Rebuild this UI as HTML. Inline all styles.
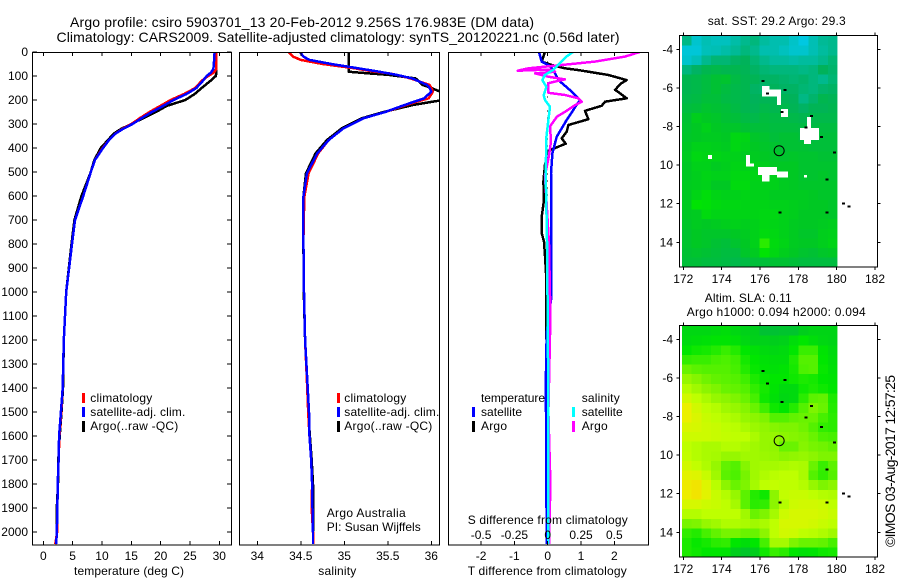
<!DOCTYPE html>
<html>
<head>
<meta charset="utf-8">
<title>Argo profile</title>
<style>
html,body{margin:0;padding:0;background:#fff;width:900px;height:580px;overflow:hidden}
svg{display:block}
text{font-family:"Liberation Sans",Arial,sans-serif;font-size:12px;fill:#000}
.t{font-size:14px}
.frame{fill:none;stroke:#000;stroke-width:1}
.tick{stroke:#000;stroke-width:1;shape-rendering:crispEdges}
.line{fill:none;stroke-width:2.5;stroke-linejoin:round;shape-rendering:crispEdges}
</style>
</head>
<body>
<svg id="chart" xmlns="http://www.w3.org/2000/svg" width="900" height="580" viewBox="0 0 900 580">
<defs>
<clipPath id="c1"><rect x="32.5" y="52" width="199" height="493"/></clipPath>
<clipPath id="c2"><rect x="239.5" y="52" width="200" height="493"/></clipPath>
<clipPath id="c3"><rect x="448.5" y="52" width="200" height="493"/></clipPath>
</defs>
<text class="t" x="70" y="27" textLength="464">Argo profile: csiro 5903701_13 20-Feb-2012 9.256S 176.983E (DM data)</text>
<text class="t" x="56.5" y="42" textLength="563">Climatology: CARS2009. Satellite-adjusted climatology: synTS_20120221.nc (0.56d later)</text>

<g id="p1"></g>
<g id="p2"></g>
<g id="p3"></g>
<g id="m1"></g>
<g id="m2"></g>

<text x="74" y="575" textLength="110">temperature (deg C)</text>
<text x="318.3" y="575" textLength="38">salinity</text>
<text x="467.7" y="575" textLength="159">T difference from climatology</text>
<text x="467.7" y="524" textLength="160">S difference from climatology</text>

<g>
<rect x="82" y="393" width="3" height="10" fill="#f00"/>
<rect x="82" y="407" width="3" height="10" fill="#00f"/>
<rect x="82" y="421" width="3" height="11" fill="#000"/>
<text x="90.3" y="402" textLength="62">climatology</text>
<text x="90.3" y="416" textLength="95">satellite-adj. clim.</text>
<text x="90.3" y="430" textLength="88">Argo(..raw -QC)</text>
</g>
<g>
<rect x="337" y="393" width="3" height="10" fill="#f00"/>
<rect x="337" y="407" width="3" height="10" fill="#00f"/>
<rect x="337" y="421" width="3" height="11" fill="#000"/>
<text x="344.3" y="402" textLength="62">climatology</text>
<text x="344.3" y="416" textLength="95">satellite-adj. clim.</text>
<text x="344.3" y="430" textLength="88">Argo(..raw -QC)</text>
<text x="326.7" y="517" textLength="79">Argo Australia</text>
<text x="326.7" y="531" textLength="94">PI: Susan Wijffels</text>
</g>
<g>
<text x="481" y="402" textLength="64">temperature</text>
<text x="581.7" y="402" textLength="38">salinity</text>
<rect x="472" y="407" width="3" height="10" fill="#00f"/>
<rect x="472" y="421" width="3" height="11" fill="#000"/>
<rect x="572" y="407" width="3" height="10" fill="#0ff"/>
<rect x="572" y="421" width="3" height="11" fill="#f0f"/>
<text x="481" y="416" textLength="41">satellite</text>
<text x="481" y="430" textLength="26">Argo</text>
<text x="581.7" y="416" textLength="41">satellite</text>
<text x="581.7" y="430" textLength="26">Argo</text>
</g>

<text x="707.7" y="25" textLength="138">sat. SST: 29.2 Argo: 29.3</text>
<text x="704.7" y="302" textLength="87">Altim. SLA: 0.11</text>
<text x="686.7" y="316" textLength="179">Argo h1000: 0.094 h2000: 0.094</text>
<text class="t" transform="translate(895,547) rotate(-90)" x="0" y="0" textLength="172">©IMOS 03-Aug-2017 12:57:25</text>
</svg>

<script>
// ---- temperature panel data ----
const tempDepth = [0,40,70,85,100,120,150,175,200,225,250,275,300,320,340,370,400,450,500,600,700,800,1000,1200,1400,1500,1600,1700,1800,1900,2000,2050];
const tempArgo = [29.3,29.4,29.5,29.5,29.4,28.5,27.0,25.8,24.2,21.0,19.2,17.1,15.0,13.3,12.0,10.9,9.8,8.7,8.1,6.5,5.3,4.8,3.9,3.5,3.35,3.1,2.8,2.55,2.5,2.3,2.3,2.2];
const tempClim = [29.5,29.5,29.5,29.1,28.1,27.0,25.9,24.0,21.7,19.9,18.1,16.5,15.0,13.5,12.3,11.1,10.1,8.8,8.1,6.8,5.4,4.9,3.9,3.5,3.3,3.05,2.75,2.6,2.45,2.4,2.35,2.05];
const tempSat = [29.2,29.1,29.0,28.6,27.85,27.2,26.1,24.4,22.2,20.4,18.5,16.8,15.2,13.6,12.3,11.1,10.2,8.8,8.1,6.8,5.4,4.9,3.9,3.5,3.3,3.0,2.7,2.6,2.45,2.4,2.3,2.2];
const tempTicks = [0,5,10,15,20,25,30];
const depthTicks = [0,100,200,300,400,500,600,700,800,900,1000,1100,1200,1300,1400,1500,1600,1700,1800,1900,2000];

// ---- salinity panel data ----
const salDepth = [0,19,33,50,68,82,89,95,110,137,150,165,193,205,220,250,276,318,367,422,505,603,783,1000,1200,1367,1500,1600,1700,1800,1900,2000,2050];
const salArgo = [35.05,35.05,35.05,35.05,35.05,35.05,35.28,35.5,35.82,35.9,36.0,36.1,36.3,36.05,35.8,35.45,35.2,34.97,34.8,34.67,34.56,34.53,34.53,34.535,34.55,34.57,34.585,34.605,34.625,34.64,34.645,34.64,34.64];
const salClim = [34.36,34.41,34.5,34.75,35.12,35.35,35.52,35.6,35.76,35.98,36.0,36.02,35.97,35.85,35.72,35.47,35.22,34.99,34.82,34.7,34.59,34.54,34.53,34.537,34.55,34.57,34.585,34.6,34.62,34.63,34.625,34.64,34.64];
const salSat = [34.49,34.53,34.6,34.85,35.16,35.4,35.51,35.6,35.78,35.95,35.98,36.0,35.92,35.82,35.7,35.47,35.22,34.99,34.82,34.69,34.57,34.53,34.53,34.537,34.55,34.575,34.594,34.6,34.62,34.63,34.635,34.64,34.64];
const salTicks = [34,34.5,35,35.5,36];

// ---- difference panel data ----
const tDiffDepth = [0,40,54,68,75,82,96,117,131,158,165,193,207,224,245,280,304,332,360,382,411,470,540,616,687,754,790,850,920,1032,1170,1300,1500,1700,2050];
const tDiffArgo = [-0.08,-0.18,0.12,0.52,0.9,1.22,1.82,2.37,2.2,2.02,2.1,2.37,1.72,1.62,1.12,1.22,0.62,0.57,0.42,0.54,0.02,-0.08,-0.13,-0.11,-0.18,-0.18,-0.11,-0.08,-0.05,-0.05,-0.05,0.02,0.02,-0.03,-0.03];
const tDiffDepthSat = [0,40,54,75,117,165,200,220,283,353,422,505,783,1032,1170,1400,1500,2050];
const tDiffSat = [-0.26,-0.18,0.02,0.17,0.32,0.72,0.97,0.87,0.57,0.27,0.14,0.1,0.1,0.1,-0.03,-0.06,-0.05,-0.03];
const sDiffDepthArgo = [0,19,40,54,68,78,73,82,89,103,114,120,130,170,179,193,207,221,249,269,310,374,430,515,800,1100,1500,1800,2050];
const sDiffArgo = [0.69,0.58,0.355,0.105,-0.145,-0.225,0.02,0.055,-0.095,0.005,0.13,0.08,0.005,0.005,0.13,0.23,0.255,0.205,0.13,0.07,0.0175,0.025,0.01,-0.02,0.01,0.02,0.005,0.02,0.01];
const sDiffDepthSat = [0,19,47,75,96,117,145,179,200,228,283,353,505,783,1100,1500,2050];
const sDiffSat = [0.19,0.14,0.09,0.04,-0.02,-0.04,-0.01,-0.03,-0.02,0.0175,0.005,-0.01,-0.015,-0.005,0.0,0.005,0.005];
const tDiffTicks = [-2,-1,0,1,2];
const sDiffTicks = [-0.5,-0.25,0,0.25,0.5];
const sDiffTickLabels = ['-0.5','-0.25','0','0.25','0.5'];

// ---- map data (levels of a shared colour scale, 0.5 degree cells, north to south) ----
const sstGrid = [
[2.5,1.4,1.9,1.7,1.7,2.1,2.4,2.6,2.2,2,2,1.5,1,1.9,2.3,2.4],
[1.2,1.2,1.8,1.9,2.1,2.3,2.6,2.4,2,2,1.7,1.4,1.4,1.9,2.2,2.4],
[1.4,1.8,2.4,2.7,2.7,2.9,3,2.7,2.4,2.2,2.2,2.1,2.2,2.2,2.4,2.7],
[2.6,2.9,3.2,3.3,3.2,3.2,3.1,2.9,2.7,2.6,2.6,2.6,2.5,2.6,3,2.8],
[3.2,3.3,3.5,3.7,3.8,3.4,3.2,3.1,2.9,2.9,2.8,2.7,2.8,2.6,2.4,2.7],
[3.2,3.3,3.5,3.7,3.5,3.3,3.2,2.9,2.8,3,2.9,2.9,2.7,2.6,2.8,2.9],
[3.3,3.4,3.6,3.6,3.4,3.3,3.2,3,3.1,3.1,3.1,3,2.5,2.8,3.2,3.1],
[3.5,3.6,3.8,3.7,3.6,3.4,3.2,3.1,3.3,3.2,3.3,3.1,2.9,3.1,3.1,3.2],
[3.7,4.2,4,3.9,3.7,3.6,3.4,3.3,3.5,3.4,3.4,3.3,3.2,3.3,3.3,3.3],
[3.8,4,4.3,4,3.9,3.9,3.7,3.6,3.6,3.5,3.5,3.5,3.4,3.4,3.5,3.5],
[3.9,4,4.1,4.1,4,4.5,4.4,3.9,3.8,3.6,3.7,3.7,3.5,3.5,3.6,3.6],
[4,4.3,4.3,4.2,4.1,4.5,4.3,4,3.9,3.8,3.7,3.7,3.7,3.6,3.6,3.6],
[4.1,4.5,4.4,4.4,4.3,4.3,4.1,4.1,4,3.9,3.8,3.9,3.8,3.8,3.7,3.7],
[4,4.3,4.3,4.1,4.2,4.4,4.3,4.3,4.2,4,4,4,3.8,3.8,3.8,3.8],
[4,4.2,4.4,4.3,4.3,4.5,4.5,4.4,4.4,4.3,4,4,3.8,3.8,3.9,3.8],
[4.1,4.2,4.3,4,4,4.6,4.6,4.3,4.3,4.3,4.1,4,3.9,3.9,3.9,3.9],
[4,4.4,4.7,4.4,4.3,4.3,4.4,4.3,4.3,4.1,4.1,4.1,4.1,4,3.9,3.9],
[4.1,4.9,4.8,4.6,4.5,4.5,4.4,4.4,4.4,4.3,4.3,4.2,4.1,4,4,3.9],
[4,4.1,4.6,4.4,4.4,4.4,4.4,4.4,4.5,4.5,4.3,4.2,4,4,4,3.9],
[3.9,4.1,4,4.1,4.2,4.3,4.2,4.3,4.5,4.4,4.3,4.1,4,4,4.1,4.2],
[3.8,4,3.9,3.9,3.9,4,4.1,4.3,4.6,4.5,4.3,4.1,3.9,3.9,4.2,4.3],
[3.8,4,3.9,3.7,3.6,3.8,4,4.3,5.6,4.6,4.4,4.1,4,4,4.2,4.4],
[3.7,3.8,3.7,3.6,3.5,3.5,3.9,4.1,4.9,4.5,4.2,4,3.8,3.7,3.9,4],
[3.6,3.6,3.5,3.5,3.4,3.3,3.4,3.6,3.6,3.7,3.7,3.6,3.5,3.5,3.5,3.5]
];
const slaGrid = [
[4.5,4.5,4.5,4.6,4.7,4.5,4.3,4.2,3.7,3.7,3.8,3.8,4.2,4.4,4.4,4.4],
[4.6,4.7,4.8,4.9,4.9,4.8,4.5,4.3,4.3,4.2,4.3,4.7,5,4.7,4.5,4.4],
[5,5.2,5.3,5.5,5.8,5.5,5,4.8,4.6,4.5,4.6,5,5.8,5.8,4.9,4.6],
[5.7,5.8,5.8,6,6.1,5.9,5.3,5,4.8,4.7,4.7,5.4,6.2,6.2,5,4.7],
[6.5,6.3,6.2,6.2,6.2,6,5.5,5.1,4.9,4.8,4.9,5.3,6.1,6.2,5.1,4.8],
[7.2,6.9,6.6,6.4,6.3,6.2,5.9,5.4,5.1,5,5,5.2,5.4,5.3,5,4.9],
[7.8,7.4,7,6.8,6.5,6.4,6.2,5.7,5.3,4.9,4.6,4.6,5.2,5.4,5.2,5],
[8.4,8,7.6,7.2,7,6.8,6.5,6,5.2,4.8,4.5,4.6,5.6,6.3,6.4,5.4],
[9,8.4,8,7.8,7.4,7.2,6.9,6.5,5.9,5.2,5,5.5,6.2,6.8,6.5,5.5],
[9,8.6,8.2,8,7.8,7.6,7.2,7,6.8,6.2,6.2,6.4,6.5,6.5,6,5.6],
[8.6,8.5,8.3,8.2,8,7.9,7.6,7.3,7.1,6.9,6.8,6.8,6.6,6.2,5.7,5.6],
[8.3,8.3,8.3,8.2,8.1,8,8,7.6,7.2,7.2,7,6.9,6.8,6.5,6.1,6],
[8,7.8,7.6,7.6,7.8,7.8,7.6,7.4,7.2,7.1,6.5,6.5,6.9,6.7,6.6,6.4],
[8.1,7.8,7.6,7.5,7.2,7.2,7.4,7.4,7.3,7.2,7,7.1,7.2,7,6.8,6.8],
[8.4,8.1,7.7,7.2,6.4,6.2,6.9,7.4,7.5,7.5,7.6,7.7,7.6,6.5,5.8,6.3],
[8.8,8.7,8.2,7.4,6.3,6.1,6.7,7.4,7.7,7.9,8,8,7.6,6.2,5.7,6.2],
[9.2,9.4,8.7,7.9,7,6.5,6.8,7.5,8,8.1,8,8,7.8,7.2,6.8,7],
[9.1,9.4,8.8,8.2,7.8,7.2,6.3,5.5,5.2,7,8.1,8.2,8.2,8,7.8,7.7],
[8.5,8.5,8.3,8.2,8,7.5,6.3,5.6,5.7,7,7.8,8.3,8.4,8.4,8.3,8],
[7.8,7.8,8,8,8,8,7.4,6.5,6.8,7.5,8.3,8.5,8.5,8.5,8.4,8.2],
[6.7,6.8,7.2,7.4,7.7,7.7,7.6,7.4,7.6,8,8.5,8.5,8.5,8.4,8.2,8],
[5.7,5.5,6,6.4,6.7,6.7,6.5,6.5,7,8,8.4,8.3,8,7.9,7.7,7.4],
[5.4,5.1,5.3,5.6,5.7,5,4.7,5,6,7.5,7.5,6.8,6.5,6.5,6.4,6],
[5.4,5.2,5,5,4.9,4.2,3.9,4.2,5.2,5.8,5.6,5,4.8,4.9,5.2,5.3]
];
// SST gaps (cloud): west, east, north, south edges in degrees
const gapWest = [176.10,176.49,176.89,177.10,178.45,178.09,178.30,173.29,175.27,175.27,175.90,176.89,176.10,178.30];
const gapEast = [176.49,177.10,177.10,177.46,178.66,179.08,178.66,173.50,175.48,175.69,176.89,177.46,176.49,178.45];
const gapNorth = [-5.90,-6.07,-6.45,-7.09,-7.51,-8.09,-8.70,-9.47,-9.47,-9.91,-10.11,-10.32,-10.51,-10.51];
const gapSouth = [-6.45,-6.45,-6.88,-7.51,-8.09,-8.70,-8.90,-9.68,-10.08,-10.08,-10.51,-10.65,-10.86,-10.65];
const islandLon = [176.15,176.4,177.3,177.15,178.7,178.4,179.2,179.9,179.5,177.05,179.5,180.35,180.65];
const islandLat = [-5.65,-6.3,-6.1,-7.25,-7.45,-8.05,-8.55,-9.35,-10.75,-12.45,-12.45,-12.0,-12.15];
const profileLon = [177.0];
const profileLat = [-9.256];
const lonTicks = [172,174,176,178,180,182];
const latTicks = [-4,-6,-8,-10,-12,-14];
const latTickLabels = ['-4','-6','-8','10','12','14'];
const palette = [[0,170,240],[0,200,225],[0,190,175],[0,178,90],[0,200,35],[0,230,0],[70,240,0],[140,245,0],[190,255,0],[235,240,0],[250,210,0]];

const NS = 'http://www.w3.org/2000/svg';
function make(parent, tag, attrs){
  const el = document.createElementNS(NS, tag);
  for (const k in attrs) el.setAttribute(k, attrs[k]);
  parent.appendChild(el);
  return el;
}
function label(parent, x, y, str, anchor, name){
  const el = make(parent, 'text', {x:x, y:y, 'text-anchor':anchor});
  el.textContent = str;
  
  
  return el;
}
function tick(parent, x1, y1, x2, y2, name){
  const el = make(parent, 'line', {x1:x1, y1:y1, x2:x2, y2:y2, class:'tick'});
  
  
}
function frame(parent, x, y, w, h, name){
  const el = make(parent, 'rect', {x:x, y:y, width:w, height:h, class:'frame'});
  
  
}
const yDepth = d => 52 + d * 0.2401;
function series(parent, xFn, depths, values, color, clip, name){
  const pts = values.map((v, i) => xFn(v).toFixed(1) + ',' + yDepth(depths[i]).toFixed(1)).join(' ');
  const el = make(parent, 'polyline', {points:pts, stroke:color, 'clip-path':'url(#' + clip + ')', class:'line'});
  
  
}

// temperature panel
const xTemp = v => 43.3 + v * 5.867;
const p1 = document.getElementById('p1');
series(p1, xTemp, tempDepth, tempArgo, '#000', 'c1', 'temperature-argo-line');
series(p1, xTemp, tempDepth, tempClim, '#f00', 'c1', 'temperature-climatology-line');
series(p1, xTemp, tempDepth, tempSat, '#00f', 'c1', 'temperature-satellite-line');
frame(p1, 32.5, 52.5, 199, 492.5, 'temperature-plot-frame');
tempTicks.forEach(v => {
  tick(p1, xTemp(v), 52, xTemp(v), 56, 'temperature-top-tick');
  tick(p1, xTemp(v), 545, xTemp(v), 541, 'temperature-bottom-tick');
  label(p1, xTemp(v), 560, String(v), 'middle', 'temperature-tick-label');
});
depthTicks.forEach(d => {
  tick(p1, 32.5, yDepth(d), 37, yDepth(d), 'depth-left-tick');
  tick(p1, 231.5, yDepth(d), 227, yDepth(d), 'depth-right-tick');
  label(p1, 28, yDepth(d) + 4, String(d), 'end', 'depth-tick-label');
});

// salinity panel
const xSal = v => 257.3 + (v - 34) * 87;
const p2 = document.getElementById('p2');
series(p2, xSal, salDepth, salArgo, '#000', 'c2', 'salinity-argo-line');
series(p2, xSal, salDepth, salClim, '#f00', 'c2', 'salinity-climatology-line');
series(p2, xSal, salDepth, salSat, '#00f', 'c2', 'salinity-satellite-line');
frame(p2, 239.5, 52.5, 200, 492.5, 'salinity-plot-frame');
salTicks.forEach(v => {
  tick(p2, xSal(v), 52, xSal(v), 56, 'salinity-top-tick');
  tick(p2, xSal(v), 545, xSal(v), 541, 'salinity-bottom-tick');
  label(p2, xSal(v), 560, String(v), 'middle', 'salinity-tick-label');
});

// difference panel
const xT = v => 547.7 + v * 33.33;
const xS = v => 547.7 + v * 133.3;
const p3 = document.getElementById('p3');
const zeroLine = make(p3, 'line', {x1:xT(0), y1:yDepth(40), x2:xT(0), y2:yDepth(1000), stroke:'#000', 'stroke-width':1, 'stroke-dasharray':'1 6', 'shape-rendering':'crispEdges'});


series(p3, xT, tDiffDepth, tDiffArgo, '#000', 'c3', 't-difference-argo-line');
series(p3, xT, tDiffDepthSat, tDiffSat, '#00f', 'c3', 't-difference-satellite-line');
series(p3, xS, sDiffDepthArgo, sDiffArgo, '#f0f', 'c3', 's-difference-argo-line');
series(p3, xS, sDiffDepthSat, sDiffSat, '#0ff', 'c3', 's-difference-satellite-line');
frame(p3, 448.5, 52.5, 200, 492.5, 'difference-plot-frame');
tDiffTicks.forEach(v => {
  tick(p3, xT(v), 52, xT(v), 56, 't-difference-top-tick');
  tick(p3, xT(v), 545, xT(v), 541, 't-difference-bottom-tick');
  label(p3, xT(v), 560, String(v), 'middle', 't-difference-tick-label');
});
sDiffTicks.forEach((v, i) => {
  label(p3, xS(v), 539, sDiffTickLabels[i], 'middle', 's-difference-tick-label');
});

// maps
function colorOf(level){
  const i = Math.max(0, Math.min(palette.length - 2, Math.floor(level)));
  const f = Math.max(0, Math.min(1, level - i));
  const c = palette[i].map((a, k) => Math.round(a + (palette[i + 1][k] - a) * f));
  return 'rgb(' + c.join(',') + ')';
}
function drawMap(parent, grid, latAt4, frameTop, frameH, prefix){
  const xLon = lon => 683.3 + (lon - 172) * 19.17;
  const yLat = lat => latAt4 + (-4 - lat) * 19.3;
  const west = 171.93, north = -3.31;
  grid.forEach((row, r) => {
    row.forEach((v, c) => {
      const x0 = xLon(west + c * 0.507), y0 = yLat(north - r * 0.4995);
      const cell = make(parent, 'rect', {x:x0.toFixed(2), y:y0.toFixed(2), width:10, height:10, fill:colorOf(v), 'shape-rendering':'crispEdges'});
      
      
    });
  });
  const maskT = make(parent, 'rect', {x:678, y:frameTop - 12, width:170, height:12, fill:'#fff'});
  
  
  const maskB = make(parent, 'rect', {x:678, y:frameTop + frameH, width:170, height:12, fill:'#fff'});
  
  
  const maskR = make(parent, 'rect', {x:xLon(180.04), y:frameTop, width:40, height:frameH, fill:'#fff'});
  
  
  if (prefix === 'sst') {
    gapWest.forEach((w, i) => {
      const gap = make(parent, 'rect', {x:xLon(w), y:yLat(gapNorth[i]), width:xLon(gapEast[i]) - xLon(w), height:yLat(gapSouth[i]) - yLat(gapNorth[i]), fill:'#fff', 'shape-rendering':'crispEdges'});
      
      
    });
  }
  islandLon.forEach((lon, i) => {
    const isle = make(parent, 'rect', {x:xLon(lon) - 1.5, y:yLat(islandLat[i]) - 1, width:3, height:2, fill:'#000', 'shape-rendering':'crispEdges'});
    
    
  });
  const ring = make(parent, 'circle', {cx:xLon(profileLon[0]), cy:yLat(profileLat[0]), r:5, fill:'none', stroke:'#000', 'stroke-width':1});
  
  
  frame(parent, 679.5, frameTop, 198, frameH, prefix + '-plot-frame');
  lonTicks.forEach(v => {
    tick(parent, xLon(v), frameTop, xLon(v), frameTop - 3, prefix + '-top-tick');
    tick(parent, xLon(v), frameTop + frameH, xLon(v), frameTop + frameH + 3, prefix + '-bottom-tick');
    label(parent, xLon(v), frameTop + frameH + 16, String(v), 'middle', prefix + '-longitude-label');
  });
  latTicks.forEach((v, i) => {
    tick(parent, 679.5, yLat(v), 676.5, yLat(v), prefix + '-left-tick');
    tick(parent, 877.5, yLat(v), 880.5, yLat(v), prefix + '-right-tick');
    label(parent, 673, yLat(v) + 4, latTickLabels[i], 'end', prefix + '-latitude-label');
  });
}
drawMap(document.getElementById('m1'), sstGrid, 49.3, 35.5, 231.5, 'sst');
drawMap(document.getElementById('m2'), slaGrid, 339.3, 325.5, 231.5, 'sla');
</script>
</body>
</html>
